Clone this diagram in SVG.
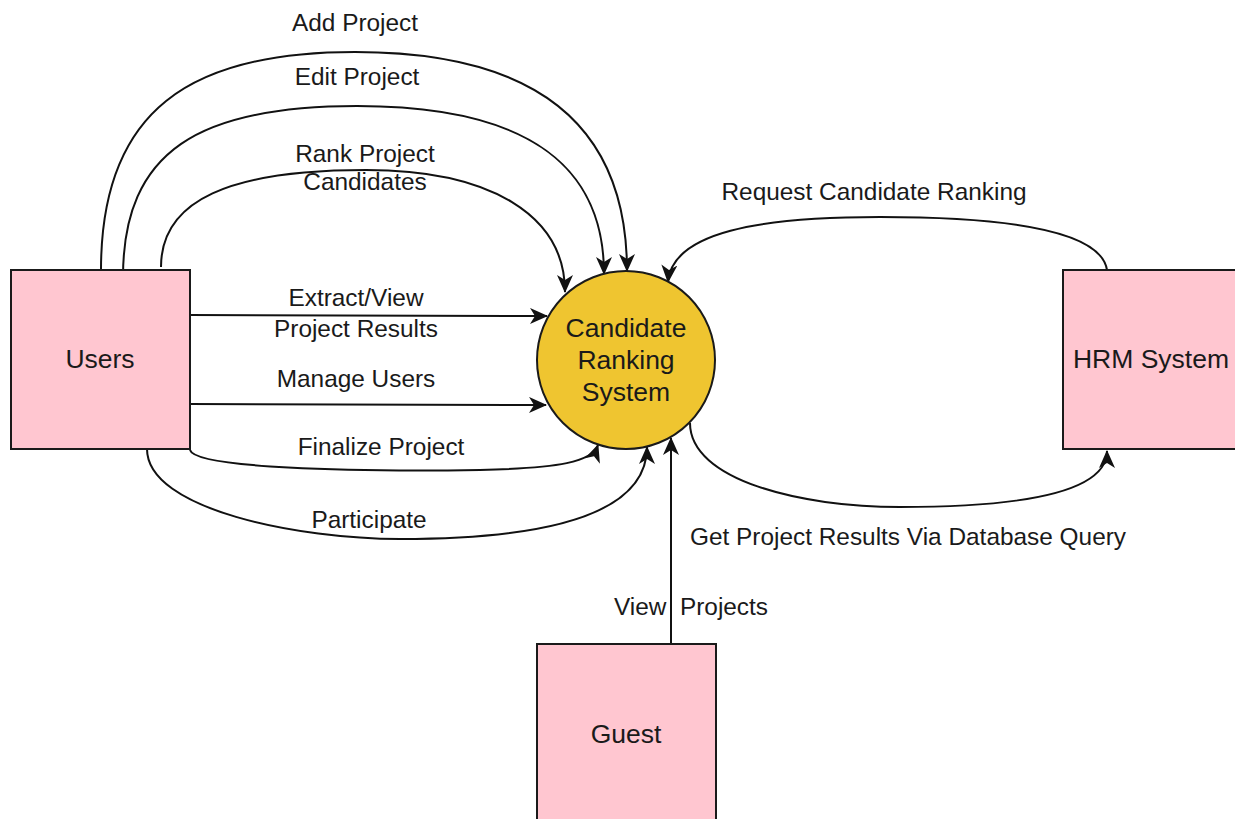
<svg xmlns="http://www.w3.org/2000/svg" width="1235" height="819" viewBox="0 0 1235 819">
  <style>
    .entity { fill: #FFC6D0; stroke: #1a1a1a; stroke-width: 2; }
    .process { fill: #EFC530; stroke: #1a1a1a; stroke-width: 2; }
    .flow { fill: none; stroke: #111; stroke-width: 2; marker-end: url(#arrow); }
    .node-label { font-family: "Liberation Sans", Arial, sans-serif; font-size: 26.5px; fill: #1a1a1a; text-anchor: middle; }
    .flow-label { font-family: "Liberation Sans", Arial, sans-serif; font-size: 24.4px; fill: #1a1a1a; text-anchor: middle; }
  </style>
  <defs>
    <marker id="arrow" viewBox="0 0 18 16" markerWidth="18" markerHeight="16" refX="17" refY="8" orient="auto" markerUnits="userSpaceOnUse">
      <path d="M0,0 L18,8 L0,16 L5,8 Z" fill="#111"/>
    </marker>
  </defs>

  <rect width="1235" height="819" fill="#ffffff"/>

  <!-- data flows -->
  <g id="connectors">
    <path class="flow" d="M101 270 C101 110, 190 52, 355 52 C530 52, 627 120, 627 271"/>
    <path class="flow" d="M123 277 C123 150, 200 106, 357 106 C520 106, 604 160, 604 274"/>
    <path class="flow" d="M161 267 C161 200, 230 170, 366 170 C490 170, 565 215, 565 292"/>
    <path class="flow" d="M190 315 L547 316"/>
    <path class="flow" d="M190 404 L546 405"/>
    <path class="flow" d="M190 450 C195 468, 350 472, 480 470 C560 468, 592 462, 598 445"/>
    <path class="flow" d="M147 449 C147 510, 300 539, 400 539 C560 539, 647 510, 647 447"/>
    <path class="flow" d="M671 644 L671 438"/>
    <path class="flow" d="M1107 270 C1100 225, 980 217, 880 217 C760 217, 672 232, 668 282"/>
    <path class="flow" d="M690 423 C690 480, 800 507, 900 507 C1030 507, 1107 490, 1107 451"/>

    <text class="flow-label" x="355" y="31">Add Project</text>
    <text class="flow-label" x="357" y="85">Edit Project</text>
    <text class="flow-label" x="365" y="162">Rank Project</text>
    <text class="flow-label" x="365" y="190">Candidates</text>
    <text class="flow-label" x="356" y="306">Extract/View</text>
    <text class="flow-label" x="356" y="337">Project Results</text>
    <text class="flow-label" x="356" y="387">Manage Users</text>
    <text class="flow-label" x="381" y="455">Finalize Project</text>
    <text class="flow-label" x="369" y="528">Participate</text>
    <text class="flow-label" x="874" y="200">Request Candidate Ranking</text>
    <text class="flow-label" x="908" y="545">Get Project Results Via Database Query</text>
    <text class="flow-label" x="691" y="615" xml:space="preserve">View  Projects</text>
  </g>

  <g id="users">
    <rect class="entity" x="11" y="270" width="179" height="179"/>
    <text class="node-label" x="100" y="368">Users</text>
  </g>

  <g id="candidate-ranking-system">
    <circle class="process" cx="626" cy="360" r="89"/>
    <text class="node-label" x="626" y="337">Candidate</text>
    <text class="node-label" x="626" y="369">Ranking</text>
    <text class="node-label" x="626" y="401">System</text>
  </g>

  <g id="hrm-system">
    <rect class="entity" x="1063" y="270" width="179" height="179"/>
    <text class="node-label" x="1151" y="368">HRM System</text>
  </g>

  <g id="guest">
    <rect class="entity" x="537" y="644" width="179" height="179"/>
    <text class="node-label" x="626" y="743">Guest</text>
  </g>
</svg>
